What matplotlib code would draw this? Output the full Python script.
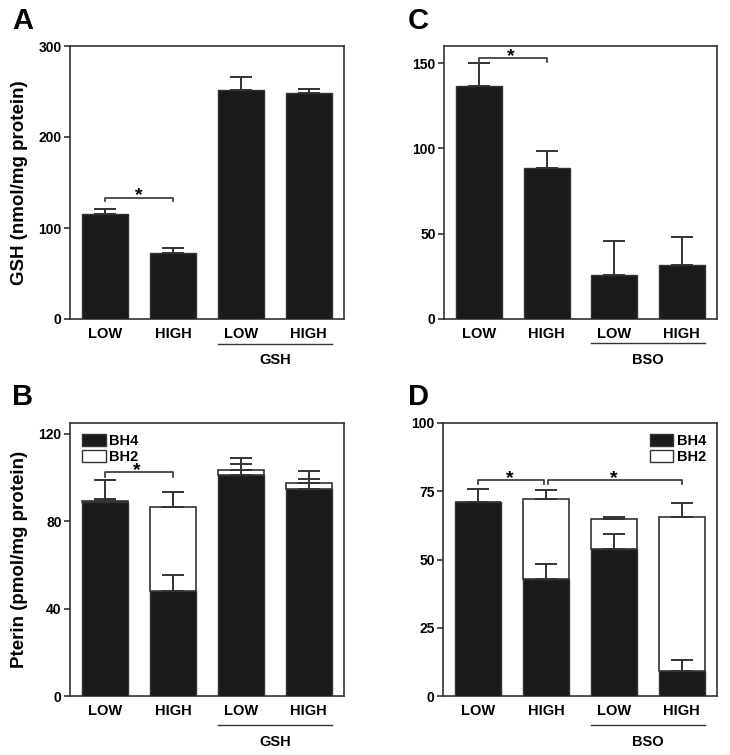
import matplotlib
matplotlib.use("Agg")
import matplotlib.pyplot as plt
from matplotlib.patches import Patch
import numpy as np

plt.rcParams['font.family'] = ['Liberation Sans', 'DejaVu Sans']
plt.rcParams['font.weight'] = 'bold'

groups = ["LOW", "HIGH", "LOW", "HIGH"]

# panel A - GSH
gsh_mean = [115.6, 72.0, 251.7, 248.8]
gsh_sem = [4.8, 6.0, 14.5, 3.7]
# panel C - GSH with BSO
bso_mean = [136.7, 88.7, 26.0, 31.6]
bso_sem = [13.3, 9.5, 19.7, 16.3]
# panel B - pterins (GSH)
b_bh4 = [88.7, 48.3, 101.2, 94.8]
b_bh4_sem = [1.5, 7.1, 4.8, 4.4]
b_bh2 = [0.4, 38.4, 2.5, 2.6]
b_tot_sem = [9.8, 6.6, 5.3, 5.8]
# panel D - pterins (BSO)
d_bh4 = [71.1, 42.9, 53.8, 9.0]
d_bh4_sem = [4.8, 5.6, 5.6, 4.3]
d_bh2 = [0.0, 29.2, 10.9, 56.5]
d_tot_sem = [0.0, 3.4, 0.7, 5.2]

BLACK = '#1a1a1a'
EDGE = '#333333'
W = 0.68

fig = plt.figure(figsize=(7.3, 7.55), dpi=100)


def mkax(l, r, t, b):
    return fig.add_axes([l / 730, 1 - b / 755, (r - l) / 730, (b - t) / 755])


def style(ax, ylim, ticks, grp, line_y, lab_y):
    x = np.arange(4)
    ax.set_xlim(-0.52, 3.52)
    ax.set_ylim(*ylim)
    ax.set_yticks(ticks)
    ax.set_xticks(x)
    ax.set_xticklabels(groups, fontsize=10.5, fontweight='bold')
    ax.tick_params(axis='x', length=0, pad=6)
    ax.tick_params(axis='y', length=4, width=1.2, labelsize=10, color=EDGE, pad=2)
    for s in ax.spines.values():
        s.set_color(EDGE)
        s.set_linewidth(1.2)
    tr = ax.get_xaxis_transform()
    ax.plot([2 - W / 2, 3 + W / 2], [line_y, line_y], color=EDGE, lw=1.0,
            transform=tr, clip_on=False)
    ax.text(2.5, lab_y, grp, transform=tr, ha='center', va='center',
            fontsize=10.5, fontweight='bold')


def errs(ax, x, tops, sem):
    sem = np.array(sem)
    ax.errorbar(x, tops, yerr=[np.zeros_like(sem), sem], fmt='none',
                ecolor=EDGE, elinewidth=1.4, capsize=8, capthick=1.4, zorder=4)


def bracket(ax, x0, x1, y, drop, star_x):
    ax.plot([x0, x0, x1, x1], [y - drop, y, y, y - drop], color=EDGE, lw=1.2, zorder=5)
    ax.annotate('*', (star_x, y), xytext=(0, -5), textcoords='offset points',
                ha='center', va='bottom', fontsize=14, fontweight='bold')


x = np.arange(4)

# A
axA = mkax(70, 344, 46, 319)
axA.bar(x, gsh_mean, W, color=BLACK, edgecolor=EDGE, lw=1, zorder=3)
errs(axA, x, gsh_mean, gsh_sem)
style(axA, (0, 300), [0, 100, 200, 300], 'GSH', -0.092, -0.15)
axA.set_ylabel('GSH (nmol/mg protein)', fontsize=13.5, fontweight='bold')
axA.yaxis.set_label_coords(-0.155, 0.5)
bracket(axA, 0, 1, 133.5, 4, 0.5)

# C
axC = mkax(444, 717, 46, 319)
axC.bar(x, bso_mean, W, color=BLACK, edgecolor=EDGE, lw=1, zorder=3)
errs(axC, x, bso_mean, bso_sem)
style(axC, (0, 160), [0, 50, 100, 150], 'BSO', -0.088, -0.15)
bracket(axC, 0, 1, 153, 2.5, 0.47)


def stacked(ax, bh4, bh4_sem, bh2, tot_sem):
    bh4 = np.array(bh4)
    bh2 = np.array(bh2)
    ax.bar(x, bh4, W, color=BLACK, edgecolor=EDGE, lw=1, zorder=3)
    ax.bar(x, bh2, W, bottom=bh4, color='white', edgecolor=EDGE, lw=1.2, zorder=3)
    errs(ax, x, bh4, bh4_sem)
    m = np.array(tot_sem) > 0
    errs(ax, x[m], (bh4 + bh2)[m], np.array(tot_sem)[m])


def legend(ax, loc, anchor):
    h = [Patch(facecolor=BLACK, edgecolor=EDGE, label='BH4'),
         Patch(facecolor='white', edgecolor=EDGE, label='BH2')]
    ax.legend(handles=h, loc=loc, bbox_to_anchor=anchor, frameon=False,
              handlelength=1.6, handleheight=0.85, borderpad=0,
              handletextpad=0.25, labelspacing=0.15, borderaxespad=0,
              prop={'weight': 'bold', 'size': 10.5})


# B
axB = mkax(70, 344, 423, 696)
stacked(axB, b_bh4, b_bh4_sem, b_bh2, b_tot_sem)
style(axB, (0, 125), [0, 40, 80, 120], 'GSH', -0.106, -0.168)
axB.set_ylabel('Pterin (pmol/mg protein)', fontsize=13.5, fontweight='bold')
axB.yaxis.set_label_coords(-0.155, 0.5)
bracket(axB, 0, 1, 102.4, 2.1, 0.46)
legend(axB, 'upper left', (0.045, 0.96))

# D
axD = mkax(443, 717, 423, 696)
stacked(axD, d_bh4, d_bh4_sem, d_bh2, d_tot_sem)
style(axD, (0, 100), [0, 25, 50, 75, 100], 'BSO', -0.106, -0.168)
bracket(axD, 0, 0.97, 79.2, 1.6, 0.46)
bracket(axD, 1.03, 3, 79.2, 1.6, 2.0)
legend(axD, 'upper left', (0.755, 0.96))

# panel letters
for lab, px, py in [('A', 12, 7), ('C', 408, 7), ('B', 12, 383), ('D', 408, 383)]:
    fig.text(px / 730, 1 - py / 755, lab, fontsize=21, fontweight='bold',
             ha='left', va='top')

fig.savefig('out.png', dpi=100)
